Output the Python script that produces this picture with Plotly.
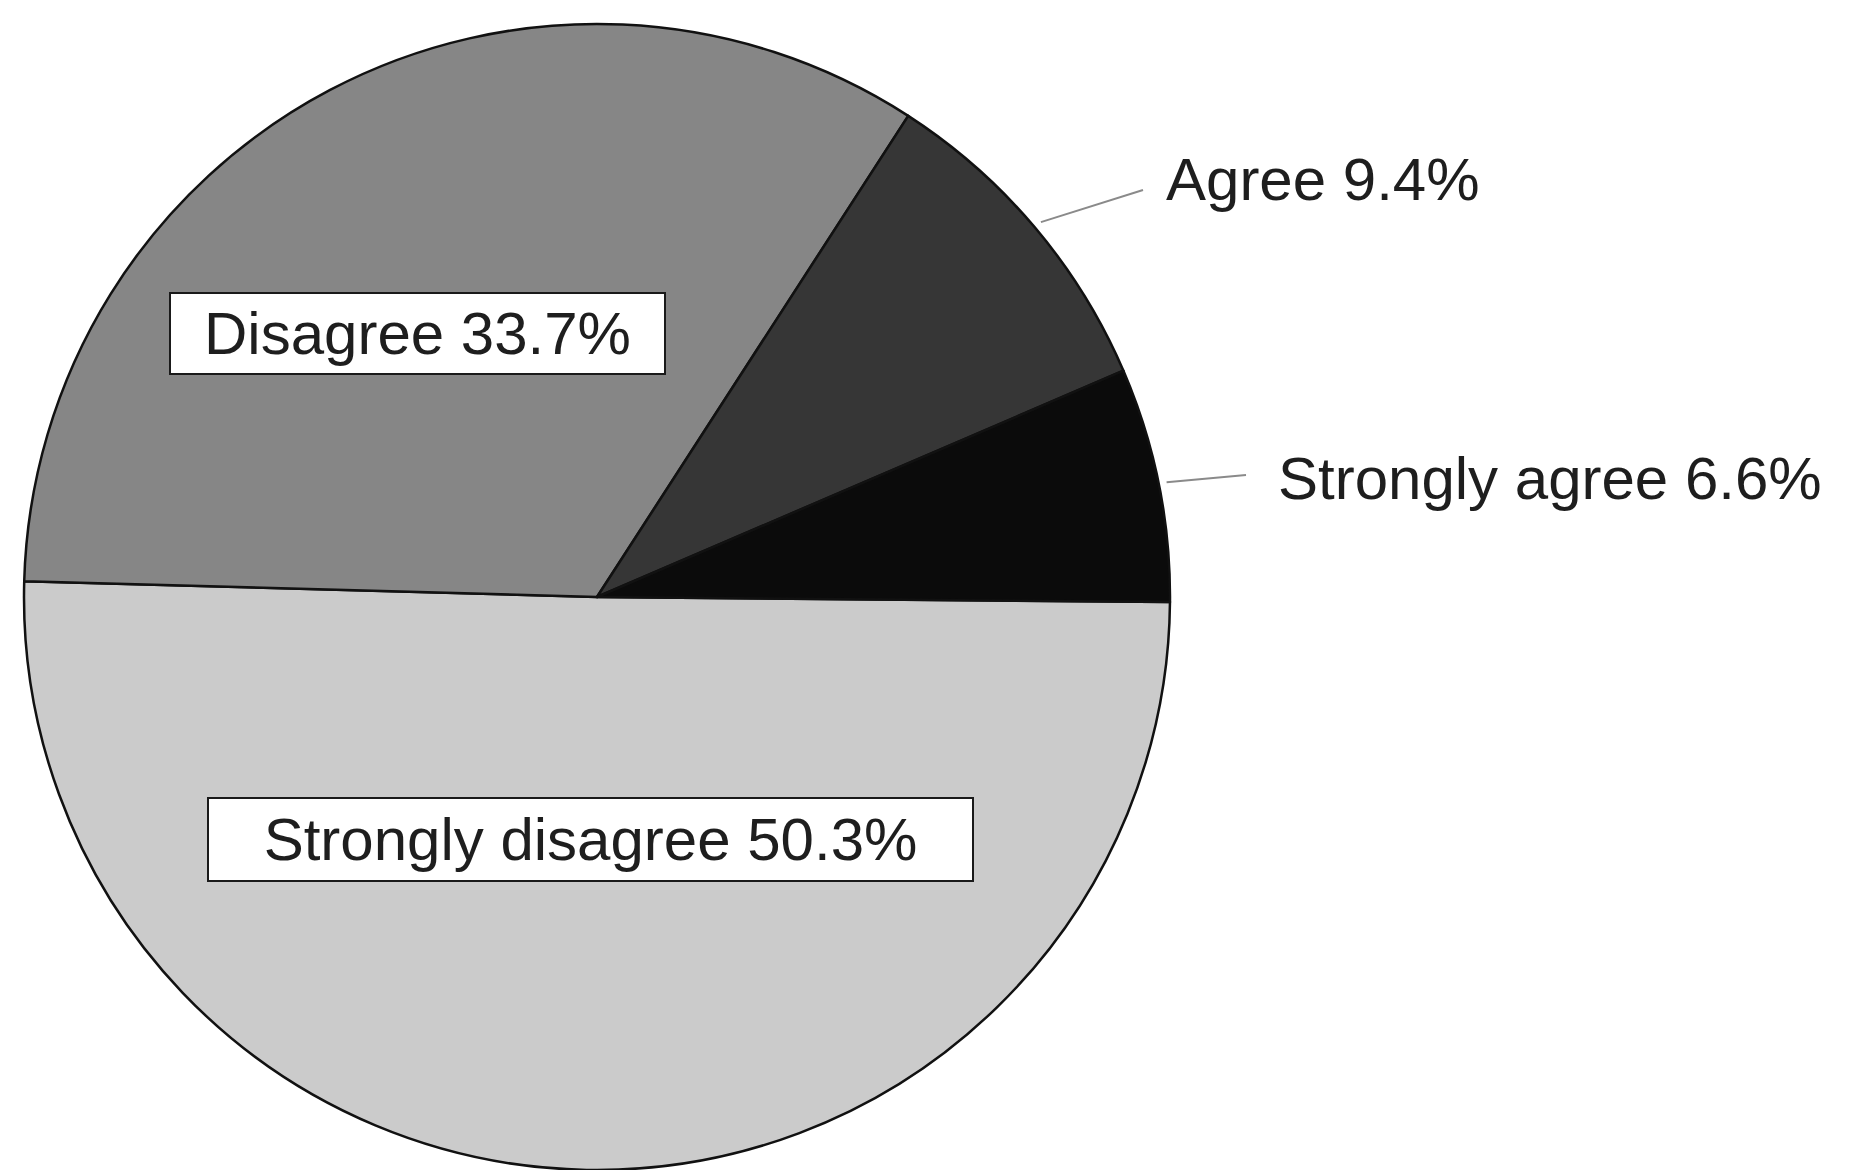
import math
import plotly.graph_objects as go

# Survey responses, in the order the slices are laid out (clockwise from 3 o'clock)
categories = ["Strongly disagree", "Disagree", "Agree", "Strongly agree"]
shares = [50.3, 33.7, 9.4, 6.6]
slice_colors = ["#cbcbcb", "#868686", "#363636", "#0b0b0b"]

# Which labels sit inside the pie in a framed box, and which sit outside with a leader
inside_labels = {"Strongly disagree", "Disagree"}

W, H = 1849, 1170
M_TOP, M_BOT = 24, 0
PLOT_H = H - M_TOP - M_BOT
CX, CY, R = 597, 597, 573          # pie centre and radius in page pixels
ROTATION = 90.5                    # first slice starts just below 3 o'clock

fig = go.Figure(
    go.Pie(
        labels=categories,
        values=shares,
        sort=False,
        direction="clockwise",
        rotation=ROTATION,
        marker=dict(colors=slice_colors, line=dict(color="#111111", width=2.5)),
        textinfo="none",
        hoverinfo="label+percent",
        domain=dict(x=[0, 2 * CX / W], y=[0, 1]),
        showlegend=False,
    )
)


def px_to_paper(x, y):
    return x / W, (H - M_BOT - y) / PLOT_H


def mid_angle(idx):
    """Math angle (deg, counter-clockwise from +x) at the middle of slice idx."""
    total = sum(shares)
    before = sum(shares[:idx])
    frac = (before + shares[idx] / 2) / total
    start = 90 - ROTATION
    return start - frac * 360


label_font = dict(family="Liberation Sans, Arial, Helvetica, sans-serif", size=60, color="#1e1e1e")

# Boxed labels inside the slices: (centre x, centre y, box width, box height)
box_geom = {
    "Disagree": (417, 333, 497, 83),
    "Strongly disagree": (590, 839, 767, 85),
}
# Outside labels: text left edge / centre line, and where the leader line ends
outside_geom = {
    "Agree": ((1164, 179), (1143, 190)),
    "Strongly agree": ((1276, 478), (1246, 475)),
}

annotations = []
shapes = []
for i, (cat, val) in enumerate(zip(categories, shares)):
    text = f"{cat} {val:.1f}%"
    if cat in inside_labels:
        bx, by, bw, bh = box_geom[cat]
        px, py = px_to_paper(bx, by)
        annotations.append(dict(
            x=px, y=py, xref="paper", yref="paper",
            text=text, showarrow=False, font=label_font,
            bgcolor="white", bordercolor="#1a1a1a", borderwidth=2, borderpad=2,
            width=bw - 8, height=bh - 8, align="center",
            xanchor="center", yanchor="middle",
        ))
    else:
        (tx, ty), (ex, ey) = outside_geom[cat]
        a = math.radians(mid_angle(i))
        sx = CX + (R + 8) * math.cos(a)
        sy = CY - (R + 8) * math.sin(a)
        x0, y0 = px_to_paper(sx, sy)
        x1, y1 = px_to_paper(ex, ey)
        shapes.append(dict(type="line", xref="paper", yref="paper",
                           x0=x0, y0=y0, x1=x1, y1=y1,
                           line=dict(color="#8a8a8a", width=2)))
        px, py = px_to_paper(tx, ty)
        annotations.append(dict(
            x=px, y=py, xref="paper", yref="paper",
            text=text, showarrow=False, font=label_font,
            xanchor="left", yanchor="middle",
        ))

fig.update_layout(
    width=W, height=H,
    margin=dict(l=0, r=0, t=M_TOP, b=M_BOT, pad=0),
    paper_bgcolor="white", plot_bgcolor="white",
    annotations=annotations, shapes=shapes,
)

fig.write_html("out.html")
